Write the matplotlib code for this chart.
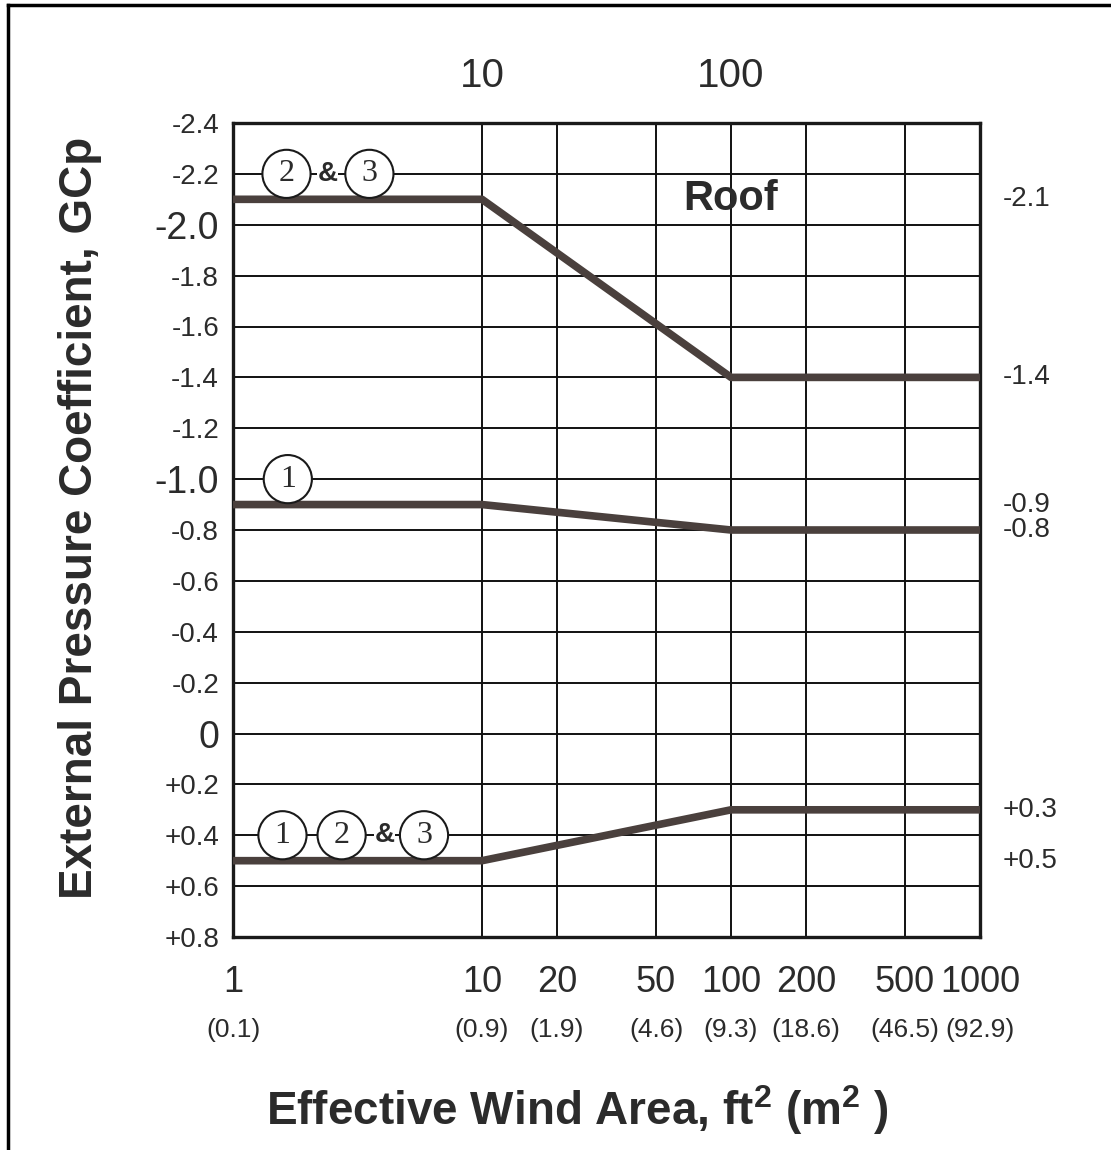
import matplotlib
matplotlib.use("Agg")
import matplotlib.pyplot as plt
from matplotlib.lines import Line2D

# effective wind area, ft^2
area = [1, 10, 100, 1000]
# GCp for each zone group
gcp_zone23_neg = [-2.1, -2.1, -1.4, -1.4]
gcp_zone1_neg = [-0.9, -0.9, -0.8, -0.8]
gcp_all_pos = [0.5, 0.5, 0.3, 0.3]

x_ticks = [1, 10, 20, 50, 100, 200, 500, 1000]
x_labels = ["1", "10", "20", "50", "100", "200", "500", "1000"]
x_metric = ["(0.1)", "(0.9)", "(1.9)", "(4.6)", "(9.3)", "(18.6)", "(46.5)", "(92.9)"]
y_ticks = [-2.4, -2.2, -2.0, -1.8, -1.6, -1.4, -1.2, -1.0, -0.8, -0.6, -0.4, -0.2,
           0.0, 0.2, 0.4, 0.6, 0.8]
y_labels = ["-2.4", "-2.2", "-2.0", "-1.8", "-1.6", "-1.4", "-1.2", "-1.0", "-0.8",
            "-0.6", "-0.4", "-0.2", "0", "+0.2", "+0.4", "+0.6", "+0.8"]
big_y_labels = ["-2.0", "-1.0", "0"]
right_vals = [-2.1, -1.4, -0.9, -0.8, 0.3, 0.5]
right_labels = ["-2.1", "-1.4", "-0.9", "-0.8", "+0.3", "+0.5"]

fam = ["Liberation Sans Narrow", "Liberation Sans", "DejaVu Sans"]
plt.rcParams["font.family"] = fam
txt = "#2b2b2b"
line_col = "#4a403d"

fig = plt.figure(figsize=(11.11, 11.5), dpi=100)
ax = fig.add_axes([233 / 1111, 1 - 937 / 1150, 747 / 1111, 814 / 1150])

ax.set_xscale("log")
ax.set_xlim(1, 1000)
ax.set_ylim(0.8, -2.4)

for vals in (gcp_zone23_neg, gcp_zone1_neg, gcp_all_pos):
    ax.plot(area, vals, color=line_col, lw=5.5, solid_capstyle="butt", zorder=4)

ax.set_xticks(x_ticks)
ax.set_xticklabels(x_labels, fontsize=26, color=txt)
ax.xaxis.set_minor_locator(matplotlib.ticker.NullLocator())
ax.set_yticks(y_ticks)
ax.set_yticklabels(y_labels, fontsize=20, color=txt)
for lab in ax.get_yticklabels():
    if lab.get_text() in big_y_labels:
        lab.set_fontsize(27)
ax.tick_params(length=0)
ax.tick_params(axis="x", pad=20)
ax.tick_params(axis="y", pad=10)
ax.grid(True, color="#111111", lw=1.4)
for s in ax.spines.values():
    s.set_linewidth(2.4)
    s.set_color("#1a1a1a")

xt = ax.get_xaxis_transform()
for xv, m in zip(x_ticks, x_metric):
    ax.text(xv, -0.114, m, transform=xt, ha="center", va="center",
            fontsize=19, color=txt)

top = ax.secondary_xaxis("top")
top.set_xticks([10, 100])
top.xaxis.set_minor_locator(matplotlib.ticker.NullLocator())
top.set_xticklabels(["10", "100"], fontsize=29, color=txt)
top.tick_params(which="both", length=0, pad=20)
top.spines["top"].set_visible(False)

yt = ax.get_yaxis_transform()
for v, lab in zip(right_vals, right_labels):
    ax.text(1.03, v, lab, transform=yt, ha="left", va="center", fontsize=20, color=txt)

ax.text(100, -2.1, "Roof", ha="center", va="center", fontsize=30,
        fontweight="bold", color=txt, zorder=5)

circ = dict(boxstyle="circle,pad=0.3", fc="white", ec="#1a1a1a", lw=1.5)
serif = ["Liberation Serif", "DejaVu Serif"]
for xv, yv, s in [(1.64, -2.2, "2"), (3.53, -2.2, "3"), (1.66, -1.0, "1"),
                  (1.58, 0.4, "1"), (2.73, 0.4, "2"), (5.85, 0.4, "3")]:
    ax.text(xv, yv, s, ha="center", va="center", fontsize=23, family=serif,
            color=txt, bbox=circ, zorder=6)
for xv, yv in [(2.4, -2.2), (4.05, 0.4)]:
    ax.text(xv, yv, "&", ha="center", va="center", fontsize=20, fontweight="bold",
            color=txt, zorder=6,
            bbox=dict(boxstyle="square,pad=0.02", fc="white", ec="none"))

fig.text(0.072, 0.55, "External Pressure Coefficient, GCp", rotation=90,
         ha="center", va="center", fontsize=33, fontweight="bold", color=txt)
fig.text(0.52, 0.035, r"Effective Wind Area, ft$^{\mathregular{2}}$ (m$^{\mathregular{2}}$ )",
         ha="center", va="center", fontsize=33, fontweight="bold", color=txt)

# outer frame of the scanned page
fig.add_artist(Line2D([8 / 1111, 1], [1 - 5 / 1150] * 2, color="black", lw=2.5,
                      transform=fig.transFigure))
fig.add_artist(Line2D([8 / 1111] * 2, [0, 1 - 5 / 1150], color="black", lw=2.5,
                      transform=fig.transFigure))

fig.savefig("out.png", dpi=100)
